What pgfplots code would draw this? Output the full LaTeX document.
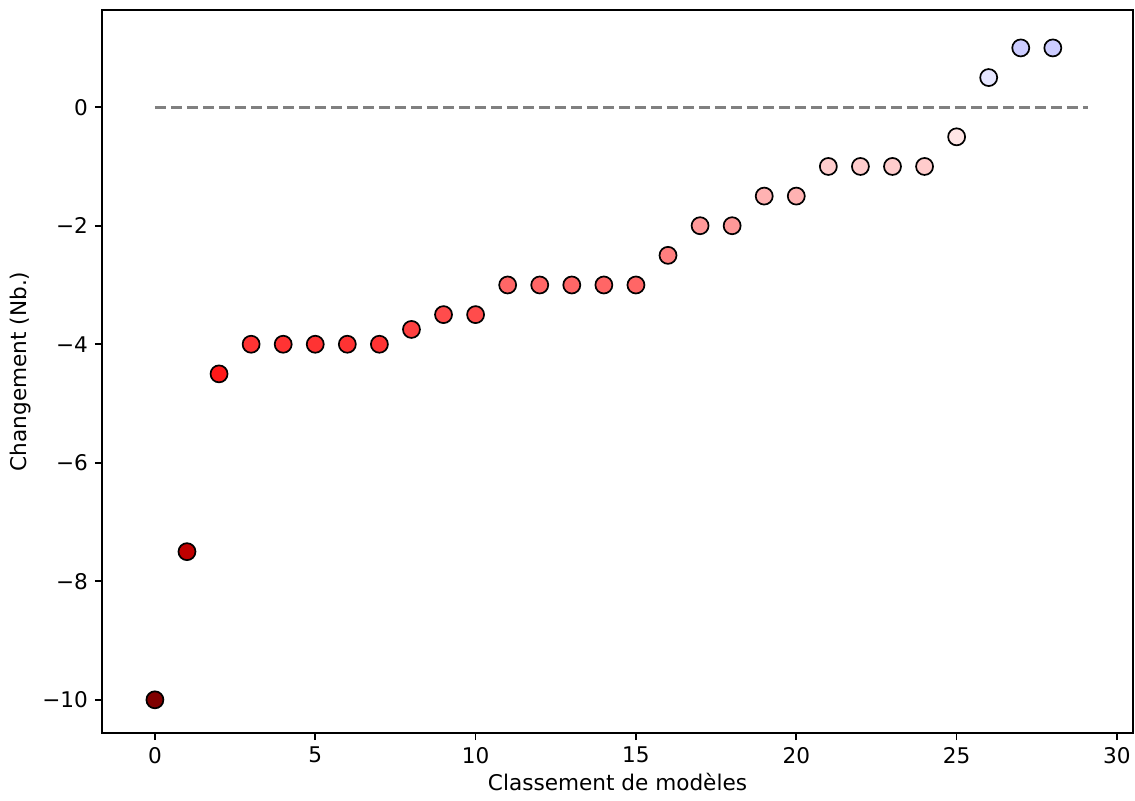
\documentclass[border=0pt]{standalone}
\usepackage{pgfplots}
\pgfplotsset{compat=1.18}
\usepackage{fontspec}
\setmainfont{DejaVu Sans}
\begin{document}
\begin{tikzpicture}
\begin{axis}[
  at={(0,0)}, anchor=south west,
  scale only axis,
  width=515.5pt, height=361.5pt,
  xmin=-1.65, xmax=30.5,
  ymin=-10.56, ymax=1.64,
  xtick={0,5,10,15,20,25,30},
  ytick={-10,-8,-6,-4,-2,0},
  yticklabels={−10,−8,−6,−4,−2,0},
  tick align=outside,
  major tick length=3.5pt,
  xtick pos=lower, ytick pos=left,
  axis line style={line width=0.8pt},
  every tick/.style={black, line width=0.8pt},
  /pgf/number format/assume math mode=true,
  ticklabel style={font=\fontsize{10.8}{13}\selectfont},
  label style={font=\fontsize{10.8}{13}\selectfont},
  xlabel={Classement de modèles},
  ylabel={Changement (Nb.)},
  xlabel style={yshift=2pt},
  ylabel style={yshift=-1pt},
  colormap={seis}{rgb(0)=(0.5,0,0) rgb(1)=(1,0,0) rgb(2)=(1,1,1) rgb(3)=(0,0,1) rgb(4)=(0,0,0.3)},
  point meta min=-10, point meta max=10,
  clip=false,
]
\addplot[gray, line width=1.5pt, dash pattern=on 5.6pt off 2.4pt] coordinates {(0,0) (29.1,0)};
\addplot[scatter, only marks, mark=*, mark size=4.25pt,
  scatter src=explicit,
  scatter/use mapped color={draw=black, fill=mapped color},
  mark options={line width=0.85pt}]
  table[x=x, y=y, meta=y] {
x y
0 -10
1 -7.5
2 -4.5
3 -4
4 -4
5 -4
6 -4
7 -4
8 -3.75
9 -3.5
10 -3.5
11 -3
12 -3
13 -3
14 -3
15 -3
16 -2.5
17 -2
18 -2
19 -1.5
20 -1.5
21 -1
22 -1
23 -1
24 -1
25 -0.5
26 0.5
27 1
28 1
};
\end{axis}
\pgfresetboundingbox
\path[use as bounding box] (-51pt,-33.5pt) rectangle (516.5pt,366.5pt);
\end{tikzpicture}
\end{document}
